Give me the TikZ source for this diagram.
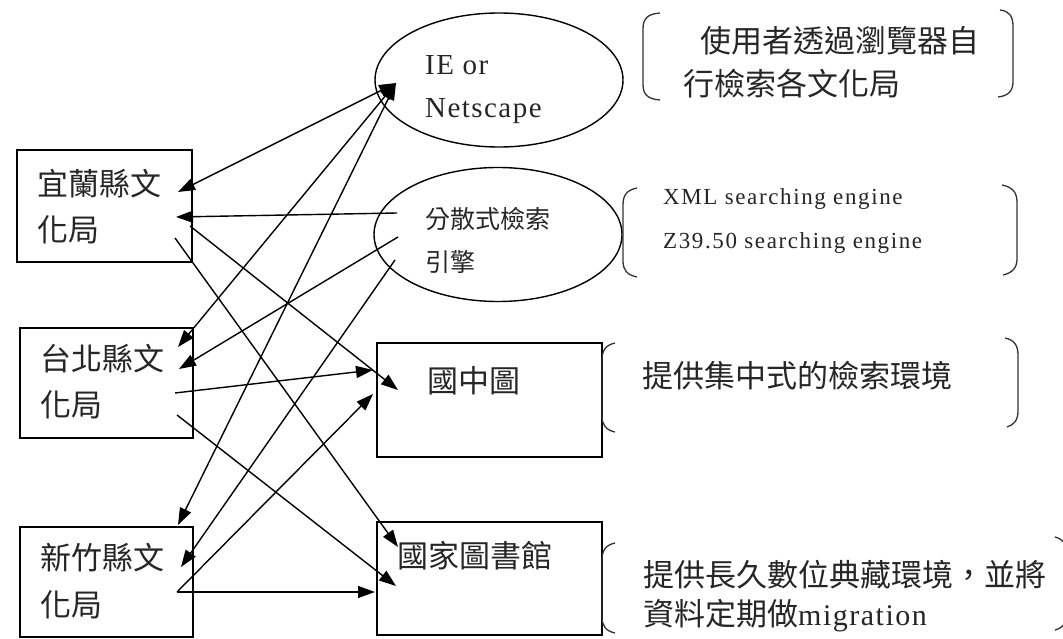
\documentclass[tikz,border=0pt]{standalone}
\usepackage{fontspec}
\setmainfont{Liberation Serif}
\newfontfamily\cjk{Noto Sans CJK TC}
\newfontfamily\enser[LetterSpace=5]{Liberation Serif}
\newfontfamily\enserw[LetterSpace=7]{Liberation Serif}
\usetikzlibrary{arrows.meta,shapes.geometric}
\begin{document}
\begin{tikzpicture}[x=1pt,y=-1pt,
  box/.style={draw, line width=1.5pt, rectangle, inner sep=0pt},
  oval/.style={draw, line width=1.4pt, ellipse, inner sep=0pt},
  cj/.style={font=\cjk\fontsize{31pt}{31pt}\selectfont, inner sep=0pt, text=black!85, anchor=base west},
  cjs/.style={font=\cjk\fontsize{25pt}{25pt}\selectfont, inner sep=0pt, text=black!85, anchor=base west},
  en/.style={font=\enser\fontsize{29pt}{29pt}\selectfont, inner sep=0pt, text=black!85, anchor=base west},
  ens/.style={font=\enserw\fontsize{23pt}{23pt}\selectfont, inner sep=0pt, text=black!85, anchor=base west},
  arr/.style={-{Triangle[length=17pt,width=12pt]}, line width=1.4pt},
  darr/.style={{Triangle[length=17pt,width=12pt]}-{Triangle[length=17pt,width=12pt]}, line width=1.4pt},
  brk/.style={line width=1.3pt, black!80}
]
\useasboundingbox[fill=white] (0,0) rectangle (1063,639);

% shapes
\node[box, minimum width=175pt, minimum height=112pt] (yilan) at (104.5,206) {};
\node[box, minimum width=173pt, minimum height=110pt] (taipei) at (106.5,383) {};
\node[box, minimum width=173pt, minimum height=110pt] (hsinchu) at (106.5,582) {};
\node[box, minimum width=225pt, minimum height=114pt] (gzt) at (489.5,400) {};
\node[box, minimum width=225pt, minimum height=113pt] (nclt) at (489.5,578.5) {};
\node[oval, minimum width=248pt, minimum height=134pt] (ie) at (499,80) {};
\node[oval, minimum width=248pt, minimum height=134pt] (fs) at (498,234.5) {};

% texts in shapes
\node[cj] (yilanA) at (37,196) {宜蘭縣文};
\node[cj] (yilanB) at (37,241) {化局};
\node[cj] (taipeiA) at (40,370) {台北縣文};
\node[cj] (taipeiB) at (40,416) {化局};
\node[cj] (hsinchuA) at (40,569) {新竹縣文};
\node[cj] (hsinchuB) at (40,616) {化局};
\node[en] (ieA) at (425,75) {IE or};
\node[en] (ieB) at (425,118) {Netscape};
\node[cjs] (fsA) at (425,229) {分散式檢索};
\node[cjs] (fsB) at (425,271) {引擎};
\node[cj] (gztT) at (427,392) {國中圖};
\node[cj] (ncltT) at (397,567) {國家圖書館};

% annotations
\node[cj] (n1a) at (700,53) {使用者透過瀏覽器自};
\node[cj] (n1b) at (683,96) {行檢索各文化局};
\node[ens] (n2a) at (663,205) {XML searching engine};
\node[ens] (n2b) at (663,249) {Z39.50 searching engine};
\node[cj] (n3) at (642,387) {提供集中式的檢索環境};
\node[cj] (n4a) at (643,586) {提供長久數位典藏環境，並將};
\node[cj] (n4b) at (643,625) {資料定期做{\enser\fontsize{30pt}{30pt}\selectfont migration}};

% brackets
\draw[brk] (660,13) .. controls (647,14) and (643,19) .. (643,29) -- (643,84) .. controls (643,94) and (647,99) .. (660,100);
\draw[brk] (1000,10) .. controls (1009,11) and (1013,16) .. (1013,26) -- (1013,82) .. controls (1013,91) and (1008,96) .. (998,97);
\draw[brk] (637,188) .. controls (627,190) and (623,195) .. (623,205) -- (623,261) .. controls (623,270) and (627,275) .. (637,277);
\draw[brk] (1002,185) .. controls (1012,187) and (1017,192) .. (1017,202) -- (1017,259) .. controls (1017,268) and (1012,273) .. (1003,275);
\draw[brk] (615,343) .. controls (606,345) and (602,350) .. (602,360) -- (602,416) .. controls (602,425) and (606,430) .. (615,432);
\draw[brk] (1005,338) .. controls (1014,340) and (1018,345) .. (1018,355) -- (1018,411) .. controls (1018,420) and (1014,425) .. (1007,427);
\draw[brk] (615,543) .. controls (606,545) and (602,550) .. (602,560) -- (602,617) .. controls (602,626) and (606,631) .. (615,633);
\draw[brk] (1055,537) .. controls (1063,539) and (1068,545) .. (1068,555) -- (1068,612) .. controls (1068,622) and (1063,628) .. (1055,630);

% connector end points
\coordinate (ieP) at (396,83);
\coordinate (fsP1) at (397,213);
\coordinate (fsP2) at (398,237);
\coordinate (fsP3) at (395,260);
\coordinate (yl1) at (178,192);
\coordinate (yl2) at (176,217);
\coordinate (yl3) at (190,226);
\coordinate (yl4) at (175,238);
\coordinate (tp1) at (178,347);
\coordinate (tp2) at (179,369);
\coordinate (tp3) at (175,393);
\coordinate (tp4) at (177,415);
\coordinate (hc1) at (178,525);
\coordinate (hc2) at (181,567);
\coordinate (hc3) at (177,592);
\coordinate (gz1) at (373,370);
\coordinate (gz2) at (398,390);
\coordinate (gz3) at (373,394);
\coordinate (nc1) at (398,547);
\coordinate (nc2) at (396,586);
\coordinate (nc3) at (375,592);

% connectors
\draw[darr] (yl1) -- (ieP);
\draw[darr] (tp1) -- (ieP);
\draw[darr] (hc1) -- (ieP);
\draw[arr] (fsP1) -- (yl2);
\draw[arr] (fsP2) -- (tp2);
\draw[arr] (fsP3) -- (hc2);
\draw[arr] (yl3) -- (gz2);
\draw[arr] (yl4) -- (nc1);
\draw[arr] (tp3) -- (gz1);
\draw[arr] (tp4) -- (nc2);
\draw[arr] (hc3) -- (gz3);
\draw[arr] (hc3) -- (nc3);
\end{tikzpicture}
\end{document}
